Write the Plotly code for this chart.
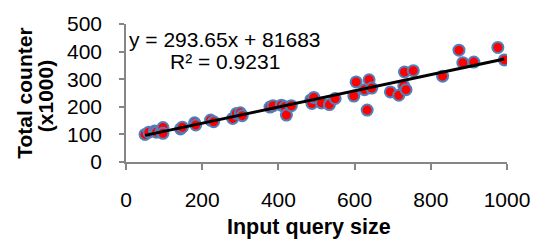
import plotly.graph_objects as go

# Data
query_size = [50, 60, 75, 80, 92, 97, 97, 143, 148, 180, 183, 222, 230, 280, 290, 300, 305,
              378, 386, 408, 417, 421, 434, 485, 488, 493, 513, 534, 549, 598, 604, 626, 633,
              638, 645, 694, 716, 729, 735, 731, 754, 831, 874, 884, 913, 976, 993]
total_counter = [100, 108, 112, 108, 110, 125, 104, 120, 126, 142, 134, 152, 146, 158, 176, 178, 168,
                 199, 204, 206, 200, 170, 204, 225, 212, 234, 214, 208, 230, 239, 290, 262, 188,
                 298, 268, 254, 242, 276, 262, 326, 331, 311, 405, 360, 362, 415, 370]

# Trendline as stated on the chart: y = 293.65x + 81683 (counter in units, shown as x1000)
trend_slope = 293.65 / 1000.0
trend_intercept = 81683 / 1000.0
equation_text = "y = 293.65x + 81683"
r2_text = "R² = 0.9231"

x_ticks = [0, 200, 400, 600, 800, 1000]
y_ticks = [0, 100, 200, 300, 400, 500]

FONT = "Liberation Sans, Arial, sans-serif"
AXIS_GREY = "#868686"

tx = [min(query_size), max(query_size)]
ty = [trend_slope * v + trend_intercept for v in tx]

fig = go.Figure()
fig.add_trace(go.Scatter(
    x=query_size, y=total_counter, mode="markers",
    marker=dict(size=11, color="#FF0000", line=dict(color="#4F81BD", width=2)),
    showlegend=False, hoverinfo="skip"))
fig.add_trace(go.Scatter(
    x=tx, y=ty, mode="lines", line=dict(color="#000000", width=3),
    showlegend=False, hoverinfo="skip"))

fig.update_layout(
    width=542, height=247,
    margin=dict(l=126, r=26, t=15, b=85),
    paper_bgcolor="white", plot_bgcolor="white",
    font=dict(family=FONT, size=21, color="black"),
    xaxis=dict(range=[0, 1000], tickvals=x_ticks, ticktext=[str(v) for v in x_ticks],
               showgrid=False, zeroline=False, showline=True, linecolor=AXIS_GREY, linewidth=1.5,
               ticks="outside", ticklen=6, tickcolor=AXIS_GREY, tickwidth=1.5,
               ticklabelstandoff=12, ticklabeloverflow="allow", tickfont=dict(size=21)),
    yaxis=dict(range=[0, 500], tickvals=y_ticks, ticktext=[str(v) for v in y_ticks],
               showgrid=False, zeroline=False, showline=True, linecolor=AXIS_GREY, linewidth=1.5,
               ticks="outside", ticklen=5, tickcolor=AXIS_GREY, tickwidth=1.5,
               ticklabelstandoff=13, tickfont=dict(size=21)),
)

fig.add_annotation(xref="paper", yref="paper", x=(227 - 126) / 390, y=(162 - 32) / 147,
                   text=equation_text, showarrow=False, xanchor="center", yanchor="middle",
                   font=dict(family=FONT, size=21, color="black"))
fig.add_annotation(xref="paper", yref="paper", x=(227 - 126) / 390, y=(162 - 55) / 147,
                   text=r2_text, showarrow=False, xanchor="center", yanchor="middle",
                   font=dict(family=FONT, size=21, color="black"))
fig.add_annotation(xref="paper", yref="paper", x=(313 - 126) / 390, y=(162 - 231) / 147,
                   text="<b>Input query size</b>", showarrow=False,
                   xanchor="center", yanchor="middle",
                   font=dict(family=FONT, size=21.5, color="black"))
fig.add_annotation(xref="paper", yref="paper", x=(22 - 126) / 390, y=(162 - 89) / 147,
                   text="<b>Total counter</b>", showarrow=False, textangle=-90,
                   xanchor="center", yanchor="middle",
                   font=dict(family=FONT, size=21, color="black"))
fig.add_annotation(xref="paper", yref="paper", x=(43 - 126) / 390, y=(162 - 92) / 147,
                   text="<b>(x1000)</b>", showarrow=False, textangle=-90,
                   xanchor="center", yanchor="middle",
                   font=dict(family=FONT, size=21, color="black"))

fig.write_html("out.html", config={"displayModeBar": False},
               post_script="document.body.style.margin='0';")
